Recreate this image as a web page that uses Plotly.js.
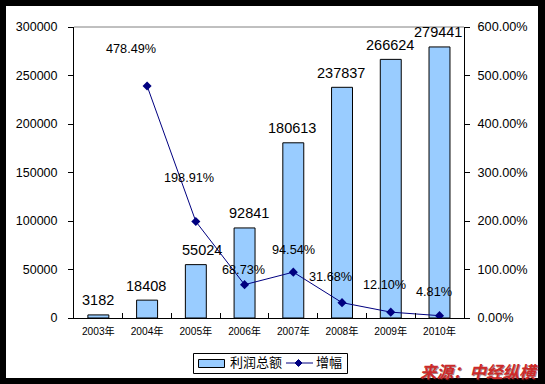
<!DOCTYPE html>
<html>
<head>
<meta charset="utf-8">
<script src="https://cdn.plot.ly/plotly-3.0.1.min.js"></script>
<style>html,body{margin:0;padding:0;background:#000;}#chart{width:545px;height:384px;}</style>
</head>
<body>
<div id="chart"></div>
<script>
var years = ['2003年','2004年','2005年','2006年','2007年','2008年','2009年','2010年'];
var profit = [3182, 18408, 55024, 92841, 180613, 237837, 266624, 279441];
var growth = [null, 478.49, 198.91, 68.73, 94.54, 31.68, 12.10, 4.81];
var growthLabels = ['', '478.49%', '198.91%', '68.73%', '94.54%', '31.68%', '12.10%', '4.81%'];
var seriesNames = ['利润总额', '增幅'];
var sourceText = '来源：中经纵横';

// label pixel offsets (style only)
var gxShift = [0, -16, -7, -1, 0, -11.5, -6, -6];
var gyShift = [0, 37, 44, 15, 22, 26, 27, 24];
var pxShift = [0, -1, 6, 4, -1, -1.5, -1, -1.5];

var font = 'Arial, "Liberation Sans", "Noto Sans CJK SC", sans-serif';
var BAR_COLOR = '#99CCFF', LINE_COLOR = '#000080';

// plot-area pixel geometry
var L = 74, R = 81, T = 27, B = 66, W = 545, H = 384;
var PW = W - L - R, PH = H - T - B;
function px(x) { return (x - L) / PW; }
function py(y) { return (H - B - y) / PH; }

var annotations = [];
for (var i = 0; i < years.length; i++) {
  annotations.push({
    x: years[i], y: profit[i], xref: 'x', yref: 'y',
    text: String(profit[i]), showarrow: false,
    yanchor: 'middle', xanchor: 'center', yshift: 14.5, xshift: pxShift[i],
    font: {family: font, size: 14.5, color: '#000'}
  });
  if (growth[i] !== null) {
    annotations.push({
      x: years[i], y: growth[i], xref: 'x', yref: 'y2',
      text: growthLabels[i], showarrow: false,
      yanchor: 'middle', xanchor: 'center', yshift: gyShift[i], xshift: gxShift[i],
      font: {family: font, size: 12.7, color: '#000'}
    });
  }
}
// custom legend texts
annotations.push({xref: 'paper', yref: 'paper', x: px(228), y: py(363), xanchor: 'left', yanchor: 'middle',
  text: seriesNames[0], showarrow: false, font: {family: font, size: 13, color: '#000'}});
annotations.push({xref: 'paper', yref: 'paper', x: px(314), y: py(363), xanchor: 'left', yanchor: 'middle',
  text: seriesNames[1], showarrow: false, font: {family: font, size: 13, color: '#000'}});
// source
annotations.push({
  xref: 'paper', yref: 'paper', x: px(540), y: py(371), xanchor: 'right', yanchor: 'middle',
  text: '<b><i>' + sourceText + '</i></b>', showarrow: false,
  font: {family: '"Noto Sans CJK SC", sans-serif', size: 16.5, color: '#CC2A2A',
         shadow: '1px 1px 0px rgba(90,20,20,0.55)'}
});

var traces = [
  {
    type: 'bar', x: years, y: profit, name: seriesNames[0],
    marker: {color: BAR_COLOR, line: {color: '#000', width: 1}},
    yaxis: 'y', hoverinfo: 'none'
  },
  {
    type: 'scatter', mode: 'lines+markers', x: years, y: growth, name: seriesNames[1],
    yaxis: 'y2', connectgaps: false,
    line: {color: LINE_COLOR, width: 1},
    marker: {symbol: 'diamond', size: 7, color: LINE_COLOR},
    hoverinfo: 'none'
  }
];

var mx = 298.5, my = 363, md = 3.5;
var diamondPath = 'M' + px(mx - md) + ',' + py(my) + ' L' + px(mx) + ',' + py(my - md) +
  ' L' + px(mx + md) + ',' + py(my) + ' L' + px(mx) + ',' + py(my + md) + ' Z';

var layout = {
  width: W, height: H,
  margin: {l: L, r: R, t: T, b: B, autoexpand: false},
  paper_bgcolor: '#000000',
  plot_bgcolor: '#ffffff',
  font: {family: font, size: 12, color: '#000'},
  bargap: 0.57,
  showlegend: false,
  xaxis: {
    type: 'category', showgrid: false, zeroline: false, automargin: false,
    showline: true, linecolor: '#000', linewidth: 1,
    ticks: 'inside', tickson: 'boundaries', ticklen: 5, tickcolor: '#000',
    tickfont: {size: 10.2, family: font}, fixedrange: true, ticklabelstandoff: 4
  },
  yaxis: {
    range: [0, 300000], dtick: 50000, showgrid: false, zeroline: false, automargin: false,
    showline: true, linecolor: '#000', linewidth: 1,
    ticks: 'outside', ticklen: 5, tickcolor: '#000',
    tickfont: {size: 12.5}, tickformat: 'd', ticklabelstandoff: 8
  },
  yaxis2: {
    overlaying: 'y', side: 'right', range: [0, 600], dtick: 100, automargin: false,
    showgrid: false, zeroline: false,
    showline: true, linecolor: '#000', linewidth: 1,
    ticks: 'outside', ticklen: 5, tickcolor: '#000',
    tickfont: {size: 12.7}, ticksuffix: '%', tickformat: '.2f', ticklabelstandoff: 5
  },
  shapes: [
    {type: 'rect', xref: 'paper', yref: 'paper', x0: px(6), x1: px(538), y0: py(378), y1: py(6),
     fillcolor: '#ffffff', line: {width: 0}, layer: 'below'},
    {type: 'line', xref: 'paper', yref: 'paper', x0: 0, x1: 1, y0: 1, y1: 1,
     line: {color: '#808080', width: 1}},
    // custom legend
    {type: 'rect', xref: 'paper', yref: 'paper', x0: px(193.5), x1: px(347.5), y0: py(373.5), y1: py(353.5),
     fillcolor: '#ffffff', line: {color: '#000', width: 1}},
    {type: 'rect', xref: 'paper', yref: 'paper', x0: px(198.5), x1: px(224.5), y0: py(367.5), y1: py(359.5),
     fillcolor: BAR_COLOR, line: {color: '#000', width: 1}},
    {type: 'line', xref: 'paper', yref: 'paper', x0: px(286), x1: px(313), y0: py(363), y1: py(363),
     line: {color: LINE_COLOR, width: 1}},
    {type: 'path', xref: 'paper', yref: 'paper', path: diamondPath,
     fillcolor: LINE_COLOR, line: {color: LINE_COLOR, width: 1}}
  ],
  annotations: annotations
};

Plotly.newPlot('chart', traces, layout, {displayModeBar: false, staticPlot: true});
</script>
</body>
</html>
